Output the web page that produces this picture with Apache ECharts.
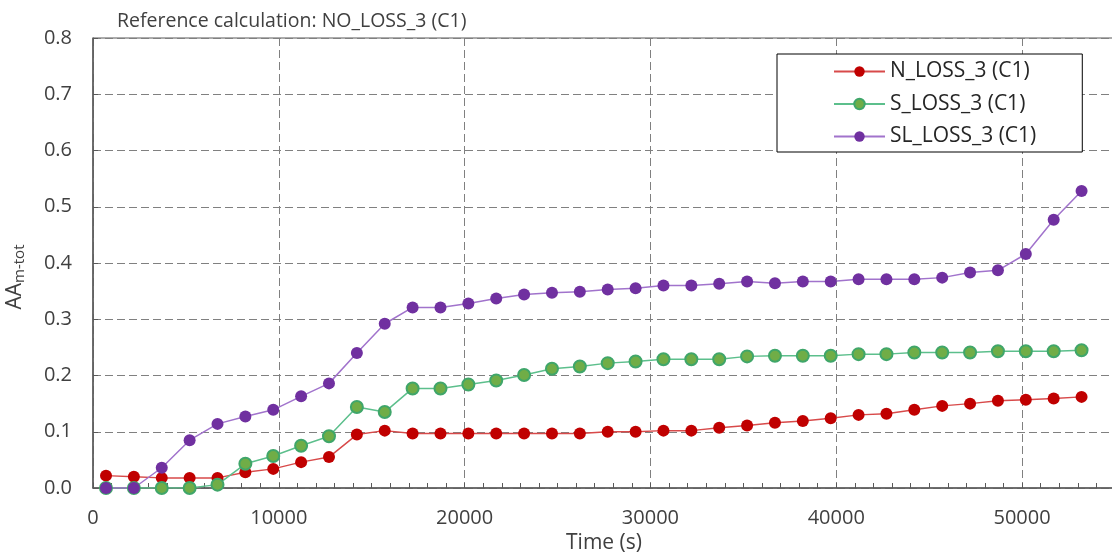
<!DOCTYPE html>
<html>
<head>
<meta charset="utf-8">
<script src="https://cdn.jsdelivr.net/npm/echarts@6/dist/echarts.min.js"></script>
<style>
  html, body { margin: 0; padding: 0; background: #fff; }
  #chart-container { width: 1112px; height: 554px; }
</style>
</head>
<body>
<div id="chart-container"></div>
<script>
// time points (s)
const times = [700, 2200, 3700, 5200, 6700, 8200, 9700, 11200, 12700, 14200, 15700, 17200,
  18700, 20200, 21700, 23200, 24700, 26200, 27700, 29200, 30700, 32200, 33700, 35200,
  36700, 38200, 39700, 41200, 42700, 44200, 45700, 47200, 48700, 50200, 51700, 53200];

const nLoss = [0.022, 0.020, 0.018, 0.018, 0.018, 0.028, 0.034, 0.046, 0.055, 0.095, 0.102, 0.097,
  0.097, 0.097, 0.097, 0.097, 0.097, 0.097, 0.100, 0.100, 0.102, 0.102, 0.107, 0.111,
  0.116, 0.119, 0.124, 0.130, 0.132, 0.139, 0.146, 0.150, 0.155, 0.157, 0.159, 0.162];

const sLoss = [0.000, 0.000, 0.000, 0.000, 0.006, 0.043, 0.057, 0.075, 0.092, 0.144, 0.135, 0.177,
  0.177, 0.184, 0.191, 0.201, 0.212, 0.216, 0.222, 0.225, 0.229, 0.229, 0.229, 0.234,
  0.235, 0.235, 0.235, 0.238, 0.238, 0.241, 0.241, 0.241, 0.243, 0.243, 0.243, 0.245];

const slLoss = [0.000, 0.000, 0.036, 0.085, 0.114, 0.127, 0.139, 0.163, 0.186, 0.240, 0.292, 0.321,
  0.321, 0.328, 0.337, 0.344, 0.347, 0.349, 0.353, 0.355, 0.360, 0.360, 0.363, 0.367,
  0.364, 0.367, 0.367, 0.371, 0.371, 0.371, 0.374, 0.383, 0.387, 0.416, 0.477, 0.528];

const seriesNames = ['N_LOSS_3 (C1)', 'S_LOSS_3 (C1)', 'SL_LOSS_3 (C1)'];

const FONT = 'Open Sans';
const TXT = '#404040';

function pairs(ys) {
  return times.map((t, i) => [t, ys[i]]);
}

function lineSeries(name, ys, lineColor, fill, border) {
  return {
    name: name,
    type: 'line',
    data: pairs(ys),
    symbol: 'circle',
    symbolSize: 12,
    showSymbol: true,
    lineStyle: { color: lineColor, width: 1.5 },
    itemStyle: { color: fill, borderColor: border, borderWidth: border === fill ? 0 : 2 },
    emphasis: { disabled: true },
    animation: false
  };
}

const gridDash = { color: '#808080', type: [8, 4], width: 1 };

const options = {
  backgroundColor: '#fff',
  title: {
    text: 'Reference calculation: NO_LOSS_3 (C1)',
    left: 117,
    top: 11,
    padding: 0,
    textStyle: { fontFamily: FONT, fontSize: 19.5, fontWeight: 'normal', color: TXT }
  },
  legend: {
    orient: 'vertical',
    left: 777,
    top: 54,
    padding: [7, 46, 5, 56],
    itemGap: 11.5,
    itemWidth: 51,
    itemHeight: 13,
    backgroundColor: '#fff',
    borderColor: '#000',
    borderWidth: 1,
    borderRadius: 0,
    data: seriesNames,
    textStyle: { fontFamily: FONT, fontSize: 21, color: '#262626' }
  },
  grid: {
    left: 93,
    right: -3,
    top: 38,
    bottom: 66,
    containLabel: false,
    outerBoundsMode: 'none',
    show: true,
    borderColor: '#595959',
    borderWidth: 1,
    backgroundColor: '#fff'
  },
  xAxis: {
    type: 'value',
    min: 0,
    max: 55000,
    interval: 10000,
    name: 'Time (s)',
    nameLocation: 'middle',
    nameGap: 42,
    nameTextStyle: { fontFamily: FONT, fontSize: 21, color: TXT },
    axisLine: { lineStyle: { color: '#595959', width: 1.5 } },
    axisTick: { inside: true, length: 5, lineStyle: { color: '#595959' } },
    minorTick: { show: true, splitNumber: 10, length: 5, lineStyle: { color: '#595959' } },
    axisLabel: {
      fontFamily: FONT, fontSize: 20, color: TXT, margin: 20, showMaxLabel: false,
      formatter: v => String(v)
    },
    splitLine: { show: true, lineStyle: gridDash }
  },
  yAxis: {
    type: 'value',
    min: 0,
    max: 0.8,
    interval: 0.1,
    name: '{a|AA}{b|m-tot}',
    nameLocation: 'middle',
    nameGap: 66,
    nameTextStyle: {
      fontFamily: FONT,
      color: TXT,
      padding: [0, 28, 0, 0],
      rich: {
        a: { fontFamily: FONT, fontSize: 21, color: TXT },
        b: { fontFamily: FONT, fontSize: 15, color: TXT, verticalAlign: 'bottom', padding: [8, 0, 0, 0] }
      }
    },
    axisLine: { show: true, lineStyle: { color: '#595959', width: 1.5 } },
    axisTick: { show: true, inside: true, length: 5, lineStyle: { color: '#595959' } },
    axisLabel: {
      fontFamily: FONT, fontSize: 20, color: TXT, margin: 21,
      formatter: v => v.toFixed(1)
    },
    splitLine: { show: true, lineStyle: gridDash }
  },
  series: [
    lineSeries(seriesNames[0], nLoss, '#d84a4a', '#c00000', '#c00000'),
    lineSeries(seriesNames[1], sLoss, '#5cbf8c', '#70ad47', '#3fa66a'),
    lineSeries(seriesNames[2], slLoss, '#a173cc', '#7030a0', '#7030a0')
  ]
};

const chart = echarts.init(document.getElementById('chart-container'));
chart.setOption(options);
</script>
</body>
</html>
